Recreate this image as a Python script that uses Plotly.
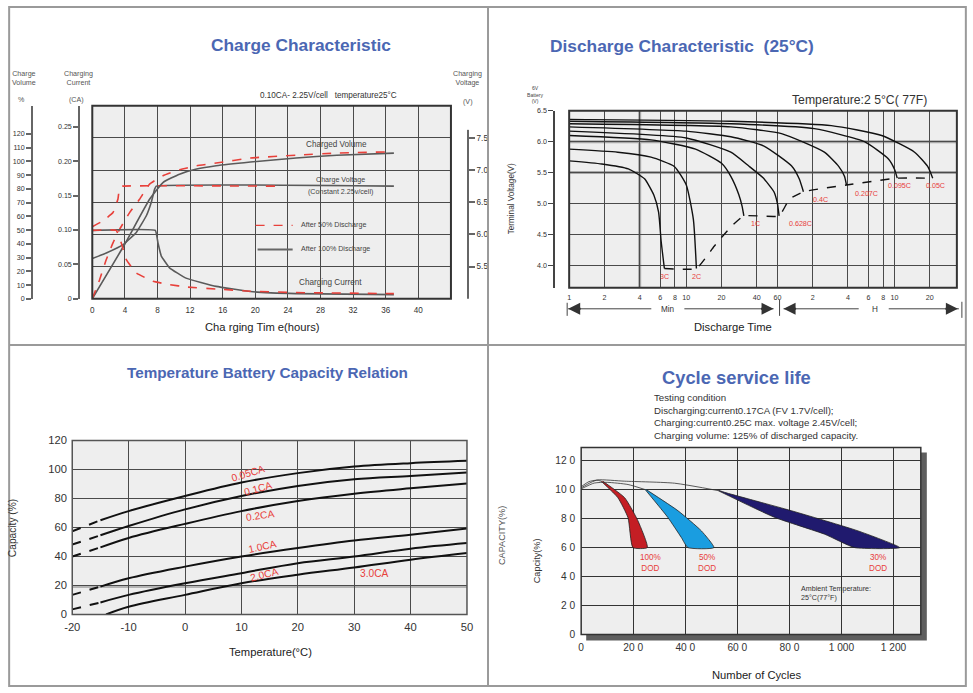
import math
import plotly.graph_objects as go

W, H = 973, 693
# The photographed page shows the figure slightly inset and scaled; positions below are
# given in reference-picture pixels and converted to paper coordinates.
SX, OX = 0.9838, 7.87
SY, OY = 0.9774, 7.82
def PX(x): return ((x - OX) / SX) / W
def PY(y): return 1 - ((y - OY) / SY) / H
FS = 1 / 0.981  # font compensation

FONT = "Liberation Sans"
TITLE_BLUE = "#4b67b3"
RED = "#e8403a"

# ---------------- Panel 1 : Charge characteristic ----------------
charge_hour_ticks = [0, 4, 8, 12, 16, 20, 24, 28, 32, 36, 40]
volume_ticks = [0, 10, 20, 30, 40, 50, 60, 70, 80, 90, 100, 110, 120]
current_ticks = [0, 0.05, 0.10, 0.15, 0.20, 0.25]
current_tick_text = ["0", "0.05", "0.10", "0.15", "0.20", "0.25"]
voltage_ticks = [5.5, 6.0, 6.5, 7.0, 7.5]
voltage_tick_text = ["5.5", "6.0", "6.5", "7.0", "7.5"]

vol100_hours = [0, 3.96, 7.03, 8.67, 10.7, 12.8, 15.2, 19.4, 25, 30, 37]
vol100_pct = [0, 39.5, 72.4, 84.6, 90.7, 94.4, 96.8, 99.5, 102.5, 104.5, 106]
vol50_hours = [0, 0.9, 1.72, 2.54, 3.35, 4.58, 5.8, 7.03, 8.67, 10.7, 12.8, 15.2, 19.4, 25, 30, 37]
vol50_pct = [0, 13.9, 28.5, 40.7, 50.5, 62.7, 72.4, 83.4, 89.5, 93.9, 96.8, 98.8, 102.4, 104.5, 106, 107]
volt100_hours = [0, 1.72, 3.77, 5.4, 6.63, 7.24, 7.64, 7.85, 37]
volt100_v = [5.625, 5.71, 5.84, 6.03, 6.29, 6.50, 6.70, 6.75, 6.75]
volt50_hours = [0, 1.31, 2.54, 3.15, 3.35, 3.77, 22.7]
volt50_v = [6.12, 6.21, 6.34, 6.55, 6.73, 6.75, 6.75]
cur100_hours = [0, 7.73, 8.06, 8.47, 9.48, 11.5, 15.2, 19.4, 25, 37]
cur100_ca = [0.0994, 0.0994, 0.081, 0.062, 0.045, 0.030, 0.018, 0.0105, 0.0075, 0.006]
cur50_hours = [0, 2.94, 3.56, 4.17, 5.4, 7.45, 9.5, 11.6, 15.2, 19.4, 25, 37]
cur50_ca = [0.0994, 0.0994, 0.081, 0.057, 0.0376, 0.0253, 0.0205, 0.0171, 0.0142, 0.011, 0.009, 0.0075]

# ---------------- Panel 2 : Discharge characteristic ----------------
dis_tick_min = [1, 2, 4, 6, 8, 10, 20, 40, 60, 120, 240, 360, 480, 600, 1200]
dis_tick_text = ["1", "2", "4", "6", "8", "10", "20", "40", "60", "2", "4", "6", "8", "10", "20"]
dis_v_ticks = [4.0, 4.5, 5.0, 5.5, 6.0, 6.5]
dis_v_text = ["4.0", "4.5", "5.0", "5.5", "6.0", "6.5"]
dis_light_min = [4]
dis_light_v = [5.5, 6.0]

rate_names = ["3C", "2C", "1C", "0.628C", "0.4C", "0.207C", "0.095C", "0.05C"]
t_3C = [1, 1.9, 3.2, 4.4, 5.3, 5.8, 6.1, 6.5]
v_3C = [5.69, 5.64, 5.56, 5.40, 5.13, 4.86, 4.39, 3.95]
t_2C = [1, 2.6, 5, 7.9, 10, 11.5, 12.2]
v_2C = [5.88, 5.83, 5.75, 5.60, 5.30, 4.74, 3.95]
t_1C = [1, 5, 12, 20, 24, 28, 30, 31]
v_1C = [6.10, 6.03, 5.88, 5.65, 5.44, 5.15, 4.95, 4.80]
t_0628C = [1, 10, 24, 34, 45, 56, 60, 62]
v_0628C = [6.17, 6.06, 5.83, 5.61, 5.42, 5.19, 5.00, 4.80]
t_04C = [1, 10, 24, 46, 79, 92, 100]
v_04C = [6.24, 6.17, 6.08, 5.93, 5.61, 5.40, 5.19]
t_0207C = [1, 24, 65, 151, 200, 224, 233]
v_0207C = [6.29, 6.24, 6.13, 5.83, 5.60, 5.44, 5.30]
t_0095C = [1, 24, 124, 332, 532, 600, 632]
v_0095C = [6.33, 6.29, 6.21, 6.00, 5.72, 5.55, 5.41]
t_005C = [1, 24, 173, 465, 889, 1150, 1270]
v_005C = [6.36, 6.33, 6.26, 6.10, 5.83, 5.60, 5.41]
t_final = [6.5, 12.2, 17.3, 24.2, 31, 62, 75.8, 100, 233, 632, 1270]
v_final = [3.95, 3.95, 4.31, 4.63, 4.80, 4.80, 5.07, 5.19, 5.30, 5.41, 5.41]

# ---------------- Panel 3 : Temperature vs capacity ----------------
temp_ticks = [-20, -10, 0, 10, 20, 30, 40, 50]
temp_tick_text = ["-20", "-10", "0", "10", "20", "30", "40", "50"]
cap_ticks = [0, 20, 40, 60, 80, 100, 120]
cap_light = [20]
temp_points = [-20, -15, -10, 0, 10, 20, 30, 40, 50]
cap_005CA = [57.4, 65, 71.3, 81.7, 91, 97.5, 102, 104.4, 106]
cap_01CA = [48.2, 54.6, 61, 72.5, 81.7, 88.7, 93.3, 95.6, 98]
cap_02CA = [40, 46.3, 52.8, 62.5, 71.3, 78.3, 83.3, 87, 90.3]
cap_10CA = [13.5, 19.2, 25, 33, 40, 45.8, 51, 55, 59.3]
cap_20CA = [3.5, 8.3, 13.5, 21.5, 28.5, 35.4, 40, 45.4, 49.3]
temp_30CA = [-14, -10, 0, 10, 20, 30, 40, 50]
cap_30CA = [0, 5.3, 13.5, 21.5, 27.4, 32.4, 37.8, 42.4]

# ---------------- Panel 4 : Cycle life ----------------
cycle_ticks = [0, 200, 400, 600, 800, 1000, 1200]
cycle_tick_text = ["0", "20 0", "40 0", "60 0", "80 0", "1 000", "1 200"]
life_cap_ticks = [0, 20, 40, 60, 80, 100, 120]
life_cap_text = ["0", "2 0", "4 0", "6 0", "8 0", "10 0", "12 0"]
dod100_left_cyc = [77, 141, 180, 199]
dod100_left_cap = [105.8, 94.4, 80.6, 60]
dod100_right_cyc = [83, 167, 218, 254]
dod100_right_cap = [105.8, 94.4, 78.5, 60]
dod50_left_cyc = [246, 333, 385, 410]
dod50_left_cap = [100, 80.8, 66.9, 60]
dod50_right_cyc = [250, 372, 462, 510]
dod50_right_cap = [100, 85.4, 71.5, 60]
dod30_left_cyc = [526, 744, 936, 1051]
dod30_left_cap = [99.3, 80.8, 69.2, 60]
dod30_right_cyc = [528, 551, 808, 1064, 1224]
dod30_right_cap = [99.5, 98.1, 85.4, 71.5, 60]
thinA_cyc = [0, 38, 64, 167, 359, 526]
thinA_cap = [101.2, 105, 106.7, 105.8, 104.4, 99.3]
thinB_cyc = [0, 50, 100, 180, 246]
thinB_cap = [100.5, 104.5, 105, 103.5, 100]
thinC_cyc = [0, 30, 60, 77]
thinC_cap = [102, 105.5, 106.5, 105.8]

fig = go.Figure()

# ---- panel 1 traces
def p1(x, y, yaxis, dashed, smooth=0.4):
    fig.add_trace(go.Scatter(
        x=x, y=y, xaxis="x", yaxis=yaxis, mode="lines", hoverinfo="skip",
        line=dict(color=RED if dashed else "#5a5a5a", width=1.6,
                  dash="dash" if dashed else "solid", shape="spline", smoothing=smooth)))

p1(vol100_hours, vol100_pct, "y2", False)
p1(volt100_hours, volt100_v, "y", False, 0.3)
p1(cur100_hours, cur100_ca, "y3", False, 0.3)
p1(vol50_hours, vol50_pct, "y2", True)
p1(volt50_hours, volt50_v, "y", True, 0.3)
p1(cur50_hours, cur50_ca, "y3", True, 0.3)

# ---- panel 2 traces
curves = [(t_3C, v_3C), (t_2C, v_2C), (t_1C, v_1C), (t_0628C, v_0628C),
          (t_04C, v_04C), (t_0207C, v_0207C), (t_0095C, v_0095C), (t_005C, v_005C)]
for t, v in curves:
    fig.add_trace(go.Scatter(x=t, y=v, xaxis="x2", yaxis="y4", mode="lines", hoverinfo="skip",
                             line=dict(color="#111111", width=1.4, shape="spline", smoothing=0.5)))
fig.add_trace(go.Scatter(x=t_final, y=v_final, xaxis="x2", yaxis="y4", mode="lines", hoverinfo="skip",
                         line=dict(color="#111111", width=1.4, dash="dash", shape="spline", smoothing=0.4)))

# ---- panel 3 traces
for caps in [cap_005CA, cap_01CA, cap_02CA, cap_10CA, cap_20CA]:
    fig.add_trace(go.Scatter(x=temp_points[:2], y=caps[:2], xaxis="x3", yaxis="y5", mode="lines",
                             hoverinfo="skip", line=dict(color="#111111", width=2, dash="dash")))
    fig.add_trace(go.Scatter(x=temp_points[1:], y=caps[1:], xaxis="x3", yaxis="y5", mode="lines",
                             hoverinfo="skip", line=dict(color="#111111", width=2, shape="spline")))
fig.add_trace(go.Scatter(x=temp_30CA, y=cap_30CA, xaxis="x3", yaxis="y5", mode="lines",
                         hoverinfo="skip", line=dict(color="#111111", width=2, shape="spline")))

# ---- panel 4 traces
for lc, lv, rc, rv, col in [(dod100_left_cyc, dod100_left_cap, dod100_right_cyc, dod100_right_cap, "#c41e24"),
                            (dod50_left_cyc, dod50_left_cap, dod50_right_cyc, dod50_right_cap, "#1a9de0"),
                            (dod30_left_cyc, dod30_left_cap, dod30_right_cyc, dod30_right_cap, "#201a6e")]:
    fig.add_trace(go.Scatter(x=lc + rc[::-1], y=lv + rv[::-1], xaxis="x4", yaxis="y6",
                             mode="lines", fill="toself", fillcolor=col, hoverinfo="skip",
                             line=dict(color="#222222", width=0.8, shape="spline", smoothing=0.5)))
for c, v in [(thinA_cyc, thinA_cap), (thinB_cyc, thinB_cap), (thinC_cyc, thinC_cap)]:
    fig.add_trace(go.Scatter(x=c, y=v, xaxis="x4", yaxis="y6", mode="lines", hoverinfo="skip",
                             line=dict(color="#333333", width=0.8, shape="spline", smoothing=0.6)))

# ---------------- axes ----------------
grid = "#4a4a4a"
tickc = "#333333"
def tf(size):
    return dict(size=size * FS, color=tickc, family=FONT)

P2_X0, P2_X1, P2_LOGMAX = 568, 955, 3.31
P2_Y0, P2_Y1, P2_VMIN, P2_VMAX = 288, 112, 3.64, 6.5
P3_X0, P3_X1, P3_Y0, P3_Y1 = 72, 466, 613, 440

layout_axes = dict(
    xaxis=dict(domain=[PX(92), PX(450)], range=[0, 44], anchor="y", tickvals=charge_hour_ticks,
               showgrid=True, gridcolor=grid, gridwidth=1, zeroline=False, showline=False,
               ticks="outside", ticklen=3, tickcolor="rgba(0,0,0,0)", tickfont=tf(8)),
    yaxis=dict(domain=[PY(299), PY(107)], range=[5, 8], anchor="free", position=PX(467), side="right",
               tickvals=voltage_ticks, ticktext=voltage_tick_text, showgrid=True, gridcolor=grid,
               zeroline=False, showline=False, ticks="outside", ticklen=6, tickcolor="#666",
               tickwidth=1.5, tickfont=tf(8)),
    yaxis2=dict(overlaying="y", anchor="free", position=PX(32), side="left", range=[0, 140.5],
                tickvals=volume_ticks, showgrid=False, zeroline=False, showline=True,
                linecolor="#666", linewidth=2, ticks="outside", ticklen=5, tickcolor="#666",
                tickwidth=1.5, tickfont=tf(7)),
    yaxis3=dict(overlaying="y", anchor="free", position=PX(79), side="left", range=[0, 0.2807],
                tickvals=current_ticks, ticktext=current_tick_text, showgrid=False, zeroline=False,
                showline=True, linecolor="#666", linewidth=2, ticks="outside", ticklen=5,
                tickcolor="#666", tickwidth=1.5, tickfont=tf(7)),
    xaxis2=dict(type="log", domain=[PX(P2_X0), PX(P2_X1)], range=[0, P2_LOGMAX], anchor="y4",
                tickvals=dis_tick_min, ticktext=dis_tick_text, showgrid=True, gridcolor=grid,
                zeroline=False, showline=False, ticks="outside", ticklen=3,
                tickcolor="rgba(0,0,0,0)", tickfont=tf(7)),
    yaxis4=dict(domain=[PY(P2_Y0), PY(P2_Y1)], range=[P2_VMIN, P2_VMAX], anchor="free",
                position=PX(553), side="left", tickvals=dis_v_ticks, ticktext=dis_v_text,
                showgrid=True, gridcolor=grid, zeroline=False, showline=True, linecolor="#444",
                linewidth=1.5, ticks="outside", ticklen=5, tickcolor="#444", tickfont=tf(7)),
    xaxis3=dict(domain=[PX(P3_X0), PX(P3_X1)], range=[-20, 50], anchor="y5", tickvals=temp_ticks,
                ticktext=temp_tick_text, showgrid=True, gridcolor=grid, zeroline=False,
                showline=False, ticks="outside", ticklen=2, tickcolor="rgba(0,0,0,0)",
                tickfont=tf(11)),
    yaxis5=dict(domain=[PY(P3_Y0), PY(P3_Y1)], range=[0, 120], anchor="x3", tickvals=cap_ticks,
                showgrid=True, gridcolor=grid, zeroline=False, showline=False, ticks="outside",
                ticklen=2, tickcolor="rgba(0,0,0,0)", tickfont=tf(11)),
    xaxis4=dict(domain=[PX(580), PX(919)], range=[0, 1305], anchor="y6", tickvals=cycle_ticks,
                ticktext=cycle_tick_text, showgrid=True, gridcolor="#333", gridwidth=1.2,
                zeroline=False, showline=False, ticks="outside", ticklen=3,
                tickcolor="rgba(0,0,0,0)", tickfont=tf(10)),
    yaxis6=dict(domain=[PY(633), PY(447)], range=[0, 129], anchor="x4", tickvals=life_cap_ticks,
                ticktext=life_cap_text, showgrid=True, gridcolor="#333", gridwidth=1.2,
                zeroline=False, showline=False, ticks="outside", ticklen=3,
                tickcolor="rgba(0,0,0,0)", tickfont=tf(10)),
)

def clampx(v): return min(max(v, 0.0012), 0.9988)
def clampy(v): return min(max(v, 0.0016), 0.9984)

shapes = []
def rect(x0, y0, x1, y1, fill=None, line=None, lw=0, layer="below"):
    shapes.append(dict(type="rect", xref="paper", yref="paper", x0=clampx(PX(x0)), x1=clampx(PX(x1)),
                       y0=clampy(PY(y1)), y1=clampy(PY(y0)), fillcolor=fill or "rgba(0,0,0,0)",
                       line=dict(color=line or "rgba(0,0,0,0)", width=lw), layer=layer))
def seg(x0, y0, x1, y1, color="#555", width=1, dash="solid", layer="above"):
    shapes.append(dict(type="line", xref="paper", yref="paper", x0=clampx(PX(x0)), x1=clampx(PX(x1)),
                       y0=clampy(PY(y0)), y1=clampy(PY(y1)),
                       line=dict(color=color, width=width, dash=dash), layer=layer))

# plot backgrounds
rect(92, 107, 450, 299, fill="#eeeeee")
rect(P2_X0, P2_Y1, P2_X1, P2_Y0, fill="#eeeeee")
rect(P3_X0, P3_Y1, P3_X1, P3_Y0, fill="#eeeeee")
rect(585, 452, 925, 639, fill="#5e5e5e")
rect(580, 447, 919, 633, fill="#eeeeee")
# lighter, heavier grid lines seen in the reference (drawn under the normal grid)
for m in dis_light_min:
    gx = P2_X0 + math.log10(m) / P2_LOGMAX * (P2_X1 - P2_X0)
    seg(gx, P2_Y1, gx, P2_Y0, color="#a8a8a8", width=3, layer="below")
for v in dis_light_v:
    gy = P2_Y0 - (v - P2_VMIN) / (P2_VMAX - P2_VMIN) * (P2_Y0 - P2_Y1)
    seg(P2_X0, gy, P2_X1, gy, color="#a8a8a8", width=3, layer="below")
for c in cap_light:
    gy = P3_Y0 - c / 120 * (P3_Y0 - P3_Y1)
    seg(P3_X0, gy + 1, P3_X1, gy + 1, color="#b4b4b4", width=3, layer="below")
# plot borders
rect(92, 107, 450, 299, line="#333", lw=2, layer="above")
rect(P2_X0, P2_Y1, P2_X1, P2_Y0, line="#333", lw=2, layer="above")
rect(P3_X0, P3_Y1, P3_X1, P3_Y0, line="#555", lw=1.5, layer="above")
rect(580, 447, 919, 633, line="#333", lw=1.5, layer="above")
# right voltage axis line
seg(467, 131, 467, 299, color="#666", width=2)
# panel frame
rect(2, 1, 970, 690, line="#9a9a9a", lw=2, layer="above")
seg(487, 1, 487, 690, color="#9a9a9a", width=2)
seg(2, 345, 970, 345, color="#9a9a9a", width=2)
# legend swatches panel 1
seg(255, 226, 292, 226, color=RED, width=1.2, dash="dash")
seg(257, 250, 292, 250, color="#666", width=2)
# arrows panel 2
seg(567, 309, 650, 309, color="#444", width=1)
seg(683, 309, 772, 309, color="#444", width=1)
seg(566, 303, 566, 316, color="#444", width=1)
seg(778, 300, 778, 316, color="#444", width=1)
seg(782, 309, 857, 309, color="#444", width=1)
seg(887, 309, 957, 309, color="#444", width=1)
seg(960, 302, 960, 318, color="#444", width=1)

annotations = []
def ann(text, x, y, size=8, color="#333", xanchor="center", yanchor="middle", angle=0,
        bold=False, family=FONT):
    annotations.append(dict(text=("<b>%s</b>" % text) if bold else text, x=PX(x), y=PY(y),
                            xref="paper", yref="paper", showarrow=False, xanchor=xanchor,
                            yanchor=yanchor, textangle=angle,
                            align="left" if xanchor == "left" else "center",
                            font=dict(size=size * FS, color=color, family=family)))

def arrowhead(x, y, direction):
    annotations.append(dict(x=PX(x), y=PY(y), ax=-14 * direction, ay=0, xref="paper",
                            yref="paper", showarrow=True, arrowhead=2, arrowsize=1.2,
                            arrowwidth=2, arrowcolor="#333", text=""))

# ---- panel 1 text
ann("Charge Characteristic", 300, 47, size=17, color=TITLE_BLUE, bold=True)
ann("Charge<br>Volume", 24, 80, size=7, color="#555")
ann("%", 21, 101, size=7, color="#555")
ann("Charging<br>Current", 78, 80, size=7, color="#555")
ann("(CA)", 76, 101, size=7, color="#555")
ann("Charging<br>Voltage", 467, 80, size=7, color="#555")
ann("(V)", 467, 103, size=7, color="#555")
ann("0.10CA- 2.25V/cell   temperature25°C", 328, 97, size=8, color="#333")
ann("Charged Volume", 336, 146, size=8, color="#444")
ann("Charge Voltage", 340, 181, size=7, color="#444")
ann("(Constant 2.25v/cell)", 340, 193, size=7, color="#444")
ann("After 50% Discharge", 298, 226, size=7, color="#444", xanchor="left")
ann("After 100% Discharge", 298, 250, size=7, color="#444", xanchor="left")
ann("Charging Current", 330, 283, size=8, color="#444")
ann("Cha rging Tim e(hours)", 262, 327, size=11, color="#222")

# ---- panel 2 text
ann("Discharge Characteristic  (25°C)", 681, 48, size=17, color=TITLE_BLUE, bold=True)
ann("Temperature:2 5°C( 77F)", 858, 101, size=12, color="#333")
ann("6V<br>Battery<br>(V)", 534, 96, size=5, color="#444")
ann("Terminal Voltage(V)", 510, 200, size=8, color="#333", angle=-90)
ann("Min", 666, 310, size=8, color="#333")
ann("H", 873, 310, size=8, color="#333")
ann("Discharge Time", 732, 327, size=11, color="#222")
arrowhead(567, 309, -1)
arrowhead(772, 309, 1)
arrowhead(782, 309, -1)
arrowhead(956, 309, 1)
label_shift = [(0, -8), (0, -8), (5, -8), (8, -8), (8, -8), (7, -9), (2, -8), (3, -8)]
for (t, v), name, (dx, dy) in zip(curves, rate_names, label_shift):
    annotations.append(dict(text=name, x=math.log10(t[-1]), y=v[-1], xref="x2", yref="y4",
                            showarrow=False, xanchor="left" if dx > 3 else "center",
                            xshift=dx, yshift=dy, font=dict(size=7 * FS, color=RED, family=FONT)))

# ---- panel 3 text
ann("Temperature Battery Capacity Relation", 267, 372, size=15, color=TITLE_BLUE, bold=True)
ann("Capacity (%)", 13, 527, size=10, color="#333", angle=-90)
ann("Temperature(°C)", 270, 650, size=11, color="#222")
ann("0.05CA", 247, 473, size=10, color=RED, angle=-17)
ann("0.1CA", 258, 488, size=10, color=RED, angle=-15)
ann("0.2CA", 260, 515, size=10, color=RED, angle=-8)
ann("1.0CA", 262, 545, size=10, color=RED, angle=-12)
ann("2.0CA", 264, 573, size=10, color=RED, angle=-14)
ann("3.0CA", 374, 572, size=10, color=RED)

# ---- panel 4 text
ann("Cycle service life", 735, 377, size=18, color=TITLE_BLUE, bold=True)
ann("Testing condition<br>Discharging:current0.17CA (FV 1.7V/cell);<br>"
    "Charging:current0.25C max. voltage 2.45V/cell;<br>Charging volume: 125% of discharged capacity.",
    651, 416, size=9.5, color="#333", xanchor="left")
ann("Capcity(%)", 536, 560, size=9, color="#333", angle=-90)
ann("CAPACITY(%)", 501, 535, size=9, color="#555", angle=-90)
ann("Number of Cycles", 755, 673, size=11, color="#222")
ann("100%<br>DOD", 649, 562, size=8, color=RED)
ann("50%<br>DOD", 706, 562, size=8, color=RED)
ann("30%<br>DOD", 876, 562, size=8, color=RED)
ann("Ambient Temperature:<br>25°C(77°F)", 797, 592, size=7, color="#333", xanchor="left")

fig.update_layout(
    width=W, height=H, margin=dict(l=0, r=0, t=0, b=0),
    paper_bgcolor="white", plot_bgcolor="rgba(0,0,0,0)", showlegend=False,
    shapes=shapes, annotations=annotations, font=dict(family=FONT), **layout_axes)

pin_page = (
    "document.documentElement.style.margin='0';document.documentElement.style.padding='0';"
    "document.documentElement.style.overflow='hidden';"
    "document.body.style.margin='0';document.body.style.padding='0';document.body.style.overflow='hidden';"
    "var g=document.getElementsByClassName('plotly-graph-div')[0];"
    "if(g){g.style.position='fixed';g.style.left='0px';g.style.top='0px';}"
)
fig.write_html("out.html", config={"displayModeBar": False}, post_script=pin_page)
